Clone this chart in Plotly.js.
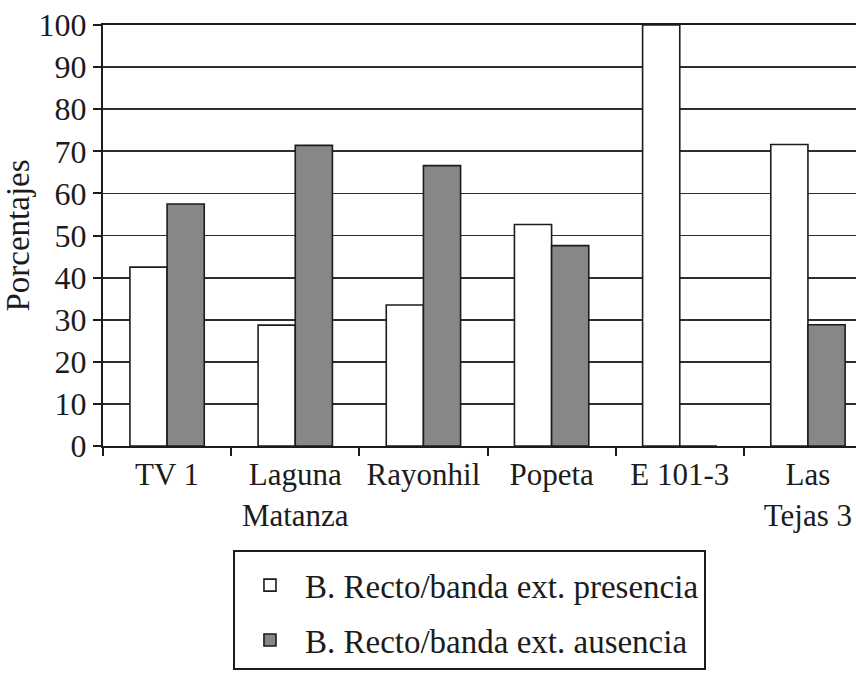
<!DOCTYPE html>
<html>
<head>
<meta charset="utf-8">
<script src="https://cdn.plot.ly/plotly-3.0.1.min.js"></script>
<style>html,body{margin:0;padding:0;background:#fff;}#chart{width:856px;height:673px;}</style>
</head>
<body>
<div id="chart"></div>
<script>
const categories = ["TV 1", "Laguna<br>Matanza", "Rayonhil", "Popeta", "E 101-3", "Las<br>Tejas 3"];
const seriesNames = ["B. Recto/banda ext. presencia", "B. Recto/banda ext. ausencia"];
const presencia = [42.5, 28.7, 33.5, 52.6, 100, 71.6];
const ausencia = [57.5, 71.4, 66.6, 47.6, 0, 28.8];
const yTicks = [0, 10, 20, 30, 40, 50, 60, 70, 80, 90, 100];

const serif = "Liberation Serif, Times New Roman, serif";
const ink = "#1c1c1c";

const traces = [
  {
    type: "bar", name: seriesNames[0], x: categories, y: presencia,
    marker: {color: "#ffffff", line: {color: ink, width: 1.6}},
    legendgroup: "a"
  },
  {
    type: "bar", name: seriesNames[1], x: categories, y: ausencia,
    marker: {color: "#878787", line: {color: ink, width: 1.6}},
    legendgroup: "b"
  }
];

const layout = {
  width: 856, height: 673,
  margin: {l: 103, r: 0, t: 25, b: 227},
  paper_bgcolor: "#fff", plot_bgcolor: "#fff",
  font: {family: serif, color: ink, size: 31},
  barmode: "group", bargap: 0.42, bargroupgap: 0,
  showlegend: true,
  legend: {
    x: 0.1726, xanchor: "left", y: -0.247, yanchor: "top",
    bordercolor: ink, borderwidth: 2, bgcolor: "#fff",
    font: {family: serif, size: 33, color: ink},
    title: {text: " ", font: {family: serif, size: 4}},
    traceorder: "grouped", tracegroupgap: 9,
    itemwidth: 60
  },
  xaxis: {
    type: "category", range: [-0.5, 5.375],
    showline: true, linecolor: ink, linewidth: 2,
    mirror: true,
    ticks: "outside", tickson: "boundaries", ticklen: 8, tickwidth: 2, tickcolor: ink,
    showgrid: false, zeroline: false,
    tickfont: {family: serif, size: 31, color: ink},
    automargin: false
  },
  yaxis: {
    range: [0, 100], tickvals: yTicks,
    showline: true, linecolor: ink, linewidth: 2,
    ticks: "outside", ticklen: 8, tickwidth: 2, tickcolor: ink,
    showgrid: true, gridcolor: "#2e2e2e", gridwidth: 1.8,
    zeroline: false,
    tickfont: {family: serif, size: 32, color: ink},
    title: {text: "Porcentajes", font: {family: serif, size: 33, color: ink}, standoff: 2},
    automargin: false
  }
};

Plotly.newPlot("chart", traces, layout, {displayModeBar: false, staticPlot: true});
</script>
</body>
</html>
